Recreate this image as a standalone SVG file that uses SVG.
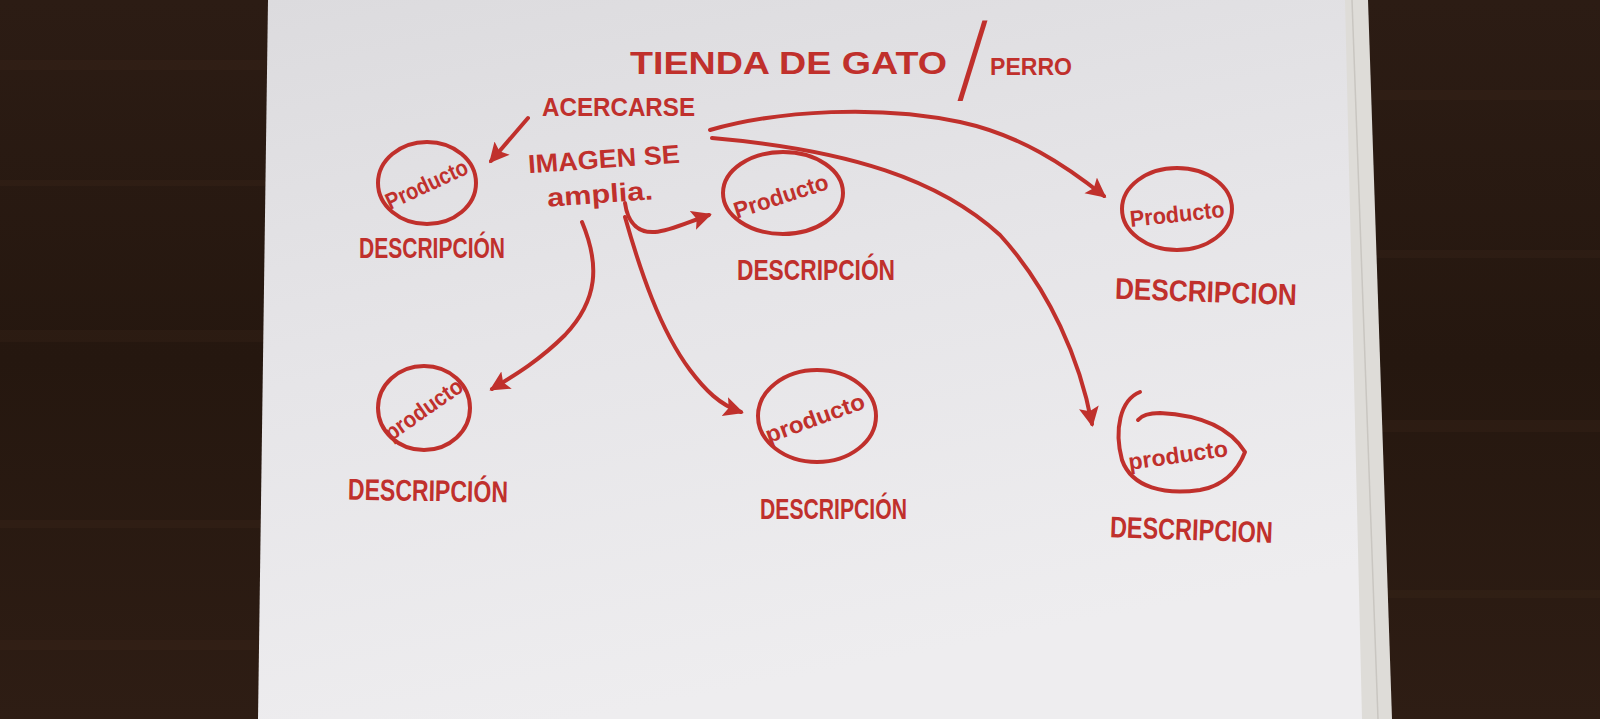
<svg xmlns="http://www.w3.org/2000/svg" width="1600" height="719" viewBox="0 0 1600 719">
  <defs>
    <style>
      .ink { fill: none; stroke: #c0302c; stroke-width: 4; stroke-linecap: round; stroke-linejoin: round; }
      .t { fill: #c0302c; font-family: "Liberation Sans", Arial, sans-serif; font-weight: bold; }
      .lbl { font-size: 23px; text-anchor: middle; }
      .desc { font-size: 30px; }
      .note { font-size: 26px; }
    </style>
    <marker id="arr" markerUnits="userSpaceOnUse" markerWidth="24" markerHeight="22" refX="17" refY="10" orient="auto">
      <path d="M0,0 L20,10 L0,20 L4,10 z" fill="#c0302c"/>
    </marker>
    <linearGradient id="paper" x1="0" y1="0" x2="0.3" y2="1">
      <stop offset="0" stop-color="#dcdbde"/>
      <stop offset="0.5" stop-color="#e6e5e8"/>
      <stop offset="1" stop-color="#eeedef"/>
    </linearGradient>
    <linearGradient id="wood" x1="0" y1="0" x2="0" y2="1">
      <stop offset="0" stop-color="#2c1c14"/>
      <stop offset="0.5" stop-color="#25170f"/>
      <stop offset="1" stop-color="#2e1d14"/>
    </linearGradient>
  </defs>

  <!-- background: table and paper -->
  <rect x="0" y="0" width="1600" height="719" fill="url(#wood)"/>
  <g opacity="0.18" fill="#4a3022">
    <rect x="0" y="60" width="270" height="10"/>
    <rect x="0" y="180" width="270" height="6"/>
    <rect x="0" y="330" width="270" height="12"/>
    <rect x="0" y="520" width="270" height="8"/>
    <rect x="0" y="640" width="270" height="10"/>
    <rect x="1360" y="90" width="240" height="10"/>
    <rect x="1360" y="250" width="240" height="8"/>
    <rect x="1360" y="420" width="240" height="12"/>
    <rect x="1360" y="590" width="240" height="8"/>
  </g>
  <polygon points="1335,0 1368,0 1392,719 1352,719" fill="#dedcd8"/>
  <line x1="1352" y1="0" x2="1378" y2="719" stroke="#c9c6c1" stroke-width="1.5"/>
  <polygon points="268,0 1345,0 1362,719 258,719" fill="url(#paper)"/>

  <!-- title -->
  <g id="title">
    <text class="t" y="74" font-size="32"><tspan x="630" textLength="317" lengthAdjust="spacingAndGlyphs">TIENDA DE GATO</tspan><tspan x="956" y="92" font-size="98" font-family="'DejaVu Sans', sans-serif" font-weight="200">/</tspan><tspan x="990" y="75" font-size="24" textLength="82" lengthAdjust="spacingAndGlyphs">PERRO</tspan></text>
  </g>

  <!-- annotation -->
  <g id="note">
    <text class="t note" x="542" y="116" textLength="153" lengthAdjust="spacingAndGlyphs">ACERCARSE</text>
    <text class="t note" x="528" y="168" textLength="152" lengthAdjust="spacingAndGlyphs" transform="rotate(-4 604 160)">IMAGEN SE</text>
    <text class="t note" x="547" y="203" textLength="106" lengthAdjust="spacingAndGlyphs" transform="rotate(-4 600 195)">amplia.</text>
  </g>

  <!-- connectors -->
  <g id="connectors" class="ink">
    <path d="M528,118 L491,161" marker-end="url(#arr)"/>
    <path d="M625,203 C628,225 640,233 655,232 C670,231 688,222 709,215" marker-end="url(#arr)"/>
    <path d="M710,130 C780,110 880,105 960,122 C1020,135 1065,165 1104,196" marker-end="url(#arr)"/>
    <path d="M712,138 C850,150 940,180 1000,235 C1050,290 1080,360 1092,424" marker-end="url(#arr)"/>
    <path d="M582,222 C600,265 598,300 565,335 C540,360 515,375 492,389" marker-end="url(#arr)"/>
    <path d="M625,217 C640,270 660,330 690,370 C705,390 720,405 741,412" marker-end="url(#arr)"/>
  </g>

  <!-- nodes -->
  <g id="node1">
    <ellipse class="ink" cx="427" cy="183" rx="49" ry="41"/>
    <text class="t lbl" x="427" y="192" textLength="88" lengthAdjust="spacingAndGlyphs" transform="rotate(-25 427 185)">Producto</text>
    <text class="t desc" x="359" y="258" font-size="27" textLength="146" lengthAdjust="spacingAndGlyphs">DESCRIPCIÓN</text>
  </g>
  <g id="node2">
    <ellipse class="ink" cx="783" cy="193" rx="60" ry="41"/>
    <text class="t lbl" x="781" y="204" font-size="25" textLength="98" lengthAdjust="spacingAndGlyphs" transform="rotate(-18 781 196)">Producto</text>
    <text class="t desc" x="737" y="280" textLength="158" lengthAdjust="spacingAndGlyphs">DESCRIPCIÓN</text>
  </g>
  <g id="node3">
    <ellipse class="ink" cx="1177" cy="209" rx="55" ry="41"/>
    <text class="t lbl" x="1177" y="222" font-size="26" textLength="95" lengthAdjust="spacingAndGlyphs" transform="rotate(-6 1177 213)">Producto</text>
    <text class="t desc" x="1115" y="302" font-size="34" textLength="182" lengthAdjust="spacingAndGlyphs" transform="rotate(2 1206 290)">DESCRIPCION</text>
  </g>
  <g id="node4">
    <ellipse class="ink" cx="424" cy="408" rx="46" ry="42"/>
    <text class="t lbl" x="424" y="417" textLength="90" lengthAdjust="spacingAndGlyphs" transform="rotate(-35 424 410)">producto</text>
    <text class="t desc" x="348" y="501" font-size="28" textLength="160" lengthAdjust="spacingAndGlyphs" transform="rotate(1 428 490)">DESCRIPCIÓN</text>
  </g>
  <g id="node5">
    <ellipse class="ink" cx="817" cy="416" rx="59" ry="46"/>
    <text class="t lbl" x="815" y="426" font-size="25" textLength="104" lengthAdjust="spacingAndGlyphs" transform="rotate(-20 815 418)">producto</text>
    <text class="t desc" x="760" y="519" textLength="147" lengthAdjust="spacingAndGlyphs">DESCRIPCIÓN</text>
  </g>
  <g id="node6">
    <path class="ink" d="M1140,392 C1120,400 1114,430 1122,460 C1132,488 1165,495 1200,490 C1228,485 1240,465 1245,452 C1230,428 1200,415 1160,413 C1150,413 1142,415 1138,420"/>
    <text class="t lbl" x="1178" y="463" font-size="25" textLength="100" lengthAdjust="spacingAndGlyphs" transform="rotate(-8 1178 455)">producto</text>
    <text class="t desc" x="1110" y="540" font-size="32" textLength="163" lengthAdjust="spacingAndGlyphs" transform="rotate(2 1190 528)">DESCRIPCION</text>
  </g>
</svg>
